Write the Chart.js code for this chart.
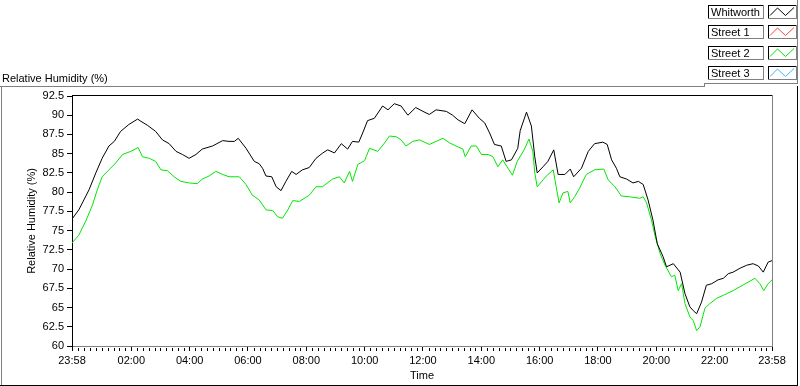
<!DOCTYPE html>
<html><head><meta charset="utf-8">
<style>html,body{margin:0;padding:0;background:#fff;overflow:hidden}canvas{display:block}</style>
<script src="https://cdn.jsdelivr.net/npm/chart.js@4.4.1/dist/chart.umd.min.js"></script>
</head><body>
<canvas id="c" width="800" height="386"></canvas>
<script>
const seriesNames = ['Whitworth', 'Street 1', 'Street 2', 'Street 3'];
const seriesColors = ['#000000', '#ff4040', '#00e600', '#40b0ff'];

// minutes since 23:58
const whitworthTime = [0,14,35,49,62,76,87,100,117,135,142,155,172,186,200,214,227,241,255,268,289,310,323,334,342,358,375,385,392,399,411,420,430,440,452,461,474,488,502,516,526,540,554,567,577,590,598,608,622,639,650,663,677,691,707,722,735,749,770,783,794,808,823,838,849,859,869,883,893,904,917,922,935,945,952,957,969,979,991,1000,1014,1025,1032,1048,1062,1075,1092,1101,1110,1120,1127,1141,1154,1165,1175,1185,1195,1204,1216,1223,1237,1251,1261,1271,1278,1285,1295,1305,1316,1329,1340,1350,1360,1374,1388,1401,1412,1422,1432,1440];
const whitworthRH = [76.5,77.7,80.3,82.5,84.4,86.0,86.6,87.9,88.8,89.5,89.2,88.7,87.9,86.8,86.3,85.3,84.9,84.4,84.9,85.6,86.0,86.7,86.6,86.6,87.0,85.7,84.0,83.7,83.1,82.1,82.0,80.7,80.2,81.4,82.7,82.3,82.9,83.2,84.4,85.1,85.5,85.1,86.3,85.6,86.6,86.5,87.7,89.3,89.6,91.2,90.7,91.5,91.2,90.0,91.0,90.5,90.1,90.7,90.5,90.0,89.4,88.9,90.7,89.6,89.0,87.7,86.2,86.0,84.0,84.2,85.7,88.0,90.4,88.6,84.6,82.5,83.3,84.0,85.5,82.3,82.3,83.0,82.0,83.1,85.3,86.3,86.5,86.2,84.2,83.1,82.0,81.7,81.2,81.4,81.0,79.0,76.4,73.3,71.6,70.3,70.7,69.6,66.8,65.1,64.6,64.2,65.7,67.9,68.1,68.6,68.8,69.4,69.6,70.1,70.5,70.7,70.4,69.6,70.9,71.1];

const street2Time = [0,14,28,42,52,62,76,90,104,121,136,145,159,172,183,196,210,224,241,258,268,282,296,310,323,344,358,371,385,399,413,423,433,444,454,468,488,502,515,536,550,560,571,577,588,602,612,629,643,653,667,677,687,701,715,735,749,763,777,790,804,809,821,832,842,856,866,876,886,897,906,916,930,940,948,952,957,969,979,990,996,1002,1010,1020,1025,1034,1044,1058,1075,1094,1103,1117,1130,1147,1168,1175,1182,1192,1199,1210,1220,1233,1240,1247,1254,1261,1271,1278,1285,1292,1302,1312,1326,1340,1360,1374,1391,1405,1415,1423,1432,1440];
const street2RH = [73.4,74.4,76.2,78.3,80.3,82.0,82.9,83.8,84.9,85.3,85.8,84.6,84.4,84.0,82.9,82.8,82.0,81.4,81.2,81.1,81.7,82.1,82.7,82.3,82.0,82.0,81.0,79.6,79.0,77.7,77.6,76.8,76.6,77.7,78.9,78.8,79.6,80.7,80.7,81.7,82.0,81.2,82.7,81.4,83.6,84.1,85.7,85.3,86.4,87.3,87.2,86.8,86.0,86.6,86.8,86.2,86.6,87.0,86.4,86.0,85.6,84.6,86.0,86.0,84.9,84.9,84.6,83.3,84.2,83.1,82.2,84.0,85.5,86.9,85.3,82.5,80.7,81.6,82.3,82.9,80.7,78.6,79.9,80.1,78.6,79.4,80.5,82.3,82.9,83.0,81.6,80.7,79.5,79.4,79.2,79.4,78.6,76.4,74.4,72.0,70.5,69.0,69.2,67.2,68.1,65.5,63.8,63.3,62.0,62.5,64.9,65.5,66.2,66.6,67.2,67.7,68.3,68.8,68.1,67.2,68.1,68.6];

const street1Time = [];
const street1RH = [];
const street3Time = [];
const street3RH = [];

const xTickValues = [0,122,242,362,482,602,722,842,962,1082,1202,1322,1440];
const xTickLabels = ['23:58','02:00','04:00','06:00','08:00','10:00','12:00','14:00','16:00','18:00','20:00','22:00','23:58'];
const yTickValues = [60,62.5,65,67.5,70,72.5,75,77.5,80,82.5,85,87.5,90,92.5];
const yTickLabels = ['60','62.5','65','67.5','70','72.5','75','77.5','80','82.5','85','87.5','90','92.5'];

const FONT = "'Liberation Sans', Arial, sans-serif";
Chart.defaults.font.family = FONT;
Chart.defaults.font.size = 11;
Chart.defaults.color = '#000';

function pts(t, v) { return t.map((x, i) => ({x: x, y: v[i]})); }
const seriesData = [pts(whitworthTime, whitworthRH), pts(street1Time, street1RH), pts(street2Time, street2RH), pts(street3Time, street3RH)];

const GRAY = '#808080';
const deco = {
  id: 'deco',
  afterDraw(chart) {
    const ctx = chart.ctx;
    const xs = chart.scales.x;
    const ca = chart.chartArea;
    ctx.save();
    const R = (x, y, w, h, c) => { ctx.fillStyle = c; ctx.fillRect(x, y, w, h); };
    // outer panel frame
    R(0, 86, 705, 1, GRAY);
    R(1, 86, 1, 299, GRAY);
    R(0, 385, 798, 1, '#000');
    R(797, 86, 1, 300, '#000');
    // legend frame
    R(704, 83, 1, 4, GRAY);
    R(704, 83, 94, 1, GRAY);
    R(797, 0, 1, 84, GRAY);
    // plot frame top / right
    R(ca.left, ca.top - 1, ca.right - ca.left + 1, 1, '#000');
    R(ca.right, ca.top - 1, 1, ca.bottom - ca.top + 1, GRAY);
    // minor ticks on x axis
    for (let i = 0; i < xTickValues.length - 1; i++) {
      const a = xTickValues[i], b = xTickValues[i + 1];
      for (let k = 1; k < 10; k++) {
        const px = Math.round(xs.getPixelForValue(a + (b - a) * k / 10));
        R(px, ca.bottom + 2, 1, 3, '#000');
      }
    }
    // title
    ctx.font = '11px ' + FONT;
    ctx.fillStyle = '#000';
    ctx.textBaseline = 'alphabetic';
    ctx.textAlign = 'left';
    ctx.fillText('Relative Humidity (%)', 2, 82);
    // legend
    const tops = [5, 25, 46, 66];
    chart.data.datasets.forEach((ds, i) => {
      const t = tops[i];
      // text box
      R(708, t, 56, 1, '#000'); R(708, t, 1, 14, '#000');
      R(708, t + 13, 56, 1, GRAY); R(763, t, 1, 14, GRAY);
      ctx.fillStyle = '#000';
      ctx.fillText(ds.label, 711, t + 11);
      // glyph box
      R(768, t, 29, 1, '#000'); R(768, t, 1, 14, '#000');
      R(768, t + 13, 29, 1, GRAY); R(796, t, 1, 14, GRAY);
      ctx.strokeStyle = ds.borderColor;
      ctx.lineWidth = 1;
      ctx.beginPath();
      ctx.moveTo(770, t + 10.5);
      ctx.lineTo(777.5, t + 3);
      ctx.lineTo(785.5, t + 10.5);
      ctx.lineTo(794, t + 2.5);
      ctx.stroke();
    });
    ctx.restore();
  }
};

new Chart(document.getElementById('c'), {
  type: 'line',
  data: {
    datasets: seriesNames.map((n, i) => ({
      label: n,
      data: seriesData[i],
      borderColor: seriesColors[i],
      backgroundColor: seriesColors[i],
      borderWidth: 1,
      pointRadius: 0,
      tension: 0,
      fill: false
    }))
  },
  options: {
    responsive: false,
    animation: false,
    devicePixelRatio: 1,
    layout: { padding: { left: 0, top: 96, right: 28, bottom: 0 } },
    plugins: { legend: { display: false }, tooltip: { enabled: false } },
    scales: {
      x: {
        type: 'linear', min: 0, max: 1440,
        afterBuildTicks: s => { s.ticks = xTickValues.map(v => ({value: v})); },
        afterFit: s => { s.height = 40; },
        ticks: { autoSkip: false, maxRotation: 0, padding: 3, color: '#000',
          callback: v => xTickLabels[xTickValues.indexOf(v)] },
        grid: { drawOnChartArea: false, drawTicks: true, tickLength: 5, color: '#000' },
        border: { color: GRAY },
        title: { display: true, text: 'Time', color: '#000', padding: { top: 0, bottom: 3 } }
      },
      y: {
        type: 'linear', min: 60, max: 92.5,
        afterBuildTicks: s => { s.ticks = yTickValues.map(v => ({value: v})); },
        afterFit: s => { s.width = 72; },
        ticks: { autoSkip: false, padding: 3, color: '#000',
          callback: v => yTickLabels[yTickValues.indexOf(v)] },
        grid: { drawOnChartArea: false, drawTicks: true, tickLength: 5, color: '#000' },
        border: { color: '#000' },
        title: { display: true, text: 'Relative Humidity (%)', color: '#000', padding: { top: 25, bottom: 0 } }
      }
    }
  },
  plugins: [deco]
});
</script>
</body></html>
